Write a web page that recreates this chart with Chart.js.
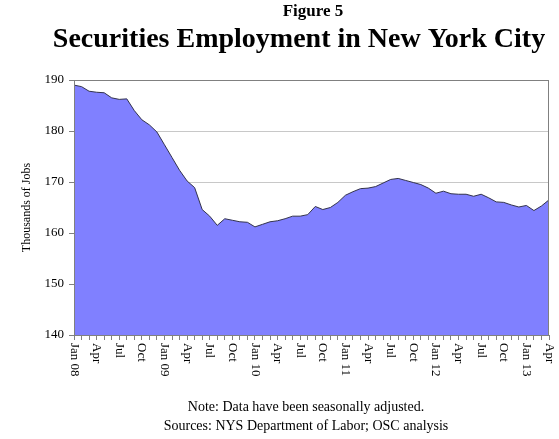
<!DOCTYPE html>
<html>
<head>
<meta charset="utf-8">
<script src="https://cdn.jsdelivr.net/npm/chart.js@4.4.1/dist/chart.umd.min.js"></script>
<style>
  html, body { margin: 0; padding: 0; background: #fff; }
  #wrap { width: 559px; height: 439px; position: relative; }
</style>
</head>
<body>
<div id="wrap"><canvas id="chart"></canvas></div>
<script>
// monthly categories, Jan 2008 - Apr 2013
const months = [
  'Jan 08','Feb 08','Mar 08','Apr 08','May 08','Jun 08','Jul 08','Aug 08','Sep 08','Oct 08','Nov 08','Dec 08',
  'Jan 09','Feb 09','Mar 09','Apr 09','May 09','Jun 09','Jul 09','Aug 09','Sep 09','Oct 09','Nov 09','Dec 09',
  'Jan 10','Feb 10','Mar 10','Apr 10','May 10','Jun 10','Jul 10','Aug 10','Sep 10','Oct 10','Nov 10','Dec 10',
  'Jan 11','Feb 11','Mar 11','Apr 11','May 11','Jun 11','Jul 11','Aug 11','Sep 11','Oct 11','Nov 11','Dec 11',
  'Jan 12','Feb 12','Mar 12','Apr 12','May 12','Jun 12','Jul 12','Aug 12','Sep 12','Oct 12','Nov 12','Dec 12',
  'Jan 13','Feb 13','Mar 13','Apr 13'
];

// thousands of jobs (seasonally adjusted)
const jobs = [
  189.0, 188.7, 187.8, 187.6, 187.5, 186.5, 186.2, 186.3, 184.0, 182.2, 181.2, 179.8,
  177.3, 174.8, 172.3, 170.2, 168.9, 164.6, 163.3, 161.5, 162.8, 162.5, 162.2, 162.1,
  161.2, 161.7, 162.2, 162.4, 162.8, 163.3, 163.3, 163.6, 165.2, 164.6, 165.0, 166.0,
  167.4, 168.1, 168.7, 168.8, 169.1, 169.8, 170.5, 170.7, 170.3, 169.9, 169.5, 168.8,
  167.8, 168.2, 167.7, 167.6, 167.6, 167.2, 167.6, 166.9, 166.1, 166.0, 165.5, 165.1,
  165.4, 164.4, 165.3, 166.5
];

// every third month gets a label
const tickLabels = [
  'Jan 08','Apr','Jul','Oct','Jan 09','Apr','Jul','Oct','Jan 10','Apr','Jul',
  'Oct','Jan 11','Apr','Jul','Oct','Jan 12','Apr','Jul','Oct','Jan 13','Apr'
];

const serif = '"Liberation Serif", "Times New Roman", serif';

const textPlugin = {
  id: 'texts',
  afterDatasetsDraw(chart) {
    const { ctx, chartArea } = chart;
    ctx.save();
    ctx.strokeStyle = '#808080';
    ctx.lineWidth = 1;
    ctx.strokeRect(chartArea.left + 0.5, chartArea.top + 0.5,
      chartArea.right - chartArea.left - 1, chartArea.bottom - chartArea.top);
    ctx.restore();
  },
  afterDraw(chart) {
    const { ctx, chartArea } = chart;
    const xs = chart.scales.x;
    ctx.save();
    ctx.fillStyle = '#000';
    ctx.textAlign = 'center';
    ctx.textBaseline = 'middle';
    ctx.font = 'bold 17px ' + serif;
    ctx.fillText('Figure 5', 313, 12);
    ctx.font = 'bold 28px ' + serif;
    ctx.fillText('Securities Employment in New York City', 299, 40);

    ctx.font = '14px ' + serif;
    ctx.fillText('Note: Data have been seasonally adjusted.', 306, 407);
    ctx.fillText('Sources: NYS Department of Labor; OSC analysis', 306, 426);

    // rotated month labels (reading top to bottom)
    ctx.font = '13px ' + serif;
    ctx.textAlign = 'left';
    tickLabels.forEach((t, k) => {
      const x = xs.getPixelForValue(k * 3);
      ctx.save();
      ctx.translate(x, chartArea.bottom + 8);
      ctx.rotate(Math.PI / 2);
      ctx.fillText(t, 0, 0);
      ctx.restore();
    });
    ctx.restore();
  }
};

new Chart(document.getElementById('chart'), {
  type: 'line',
  data: {
    labels: months,
    datasets: [{
      data: jobs,
      fill: 'start',
      backgroundColor: '#8080ff',
      borderColor: '#33334d',
      borderWidth: 1,
      pointRadius: 0,
      tension: 0
    }]
  },
  options: {
    responsive: true,
    maintainAspectRatio: false,
    animation: false,
    layout: { padding: { top: 80, right: 10, left: 0, bottom: 0 } },
    plugins: {
      legend: { display: false },
      tooltip: { enabled: false }
    },
    scales: {
      x: {
        type: 'category',
        ticks: { display: false, autoSkip: false },
        grid: { drawOnChartArea: false, tickLength: 5, tickColor: '#808080' },
        border: { color: '#808080' },
        afterFit: (s) => { s.height = 104; }
      },
      y: {
        min: 140,
        max: 190,
        ticks: { stepSize: 10, color: '#000', padding: 5, font: { family: serif, size: 13 } },
        grid: { color: '#c8c8c8', tickLength: 5, tickColor: '#808080' },
        border: { color: '#808080' },
        title: {
          display: true,
          text: 'Thousands of Jobs',
          color: '#000',
          font: { family: serif, size: 12 },
          padding: { top: 20, bottom: 0 }
        },
        afterFit: (s) => { s.width = 74; }
      }
    }
  },
  plugins: [textPlugin]
});
</script>
</body>
</html>
